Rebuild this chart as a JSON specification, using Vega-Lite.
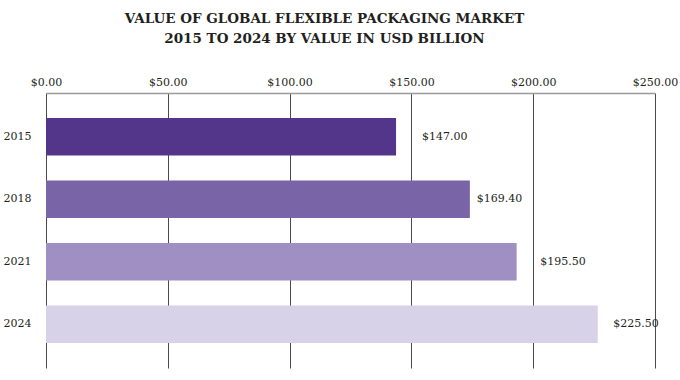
{
  "$schema": "https://vega.github.io/schema/vega-lite/v6.json",
  "autosize": {"type": "none"},
  "width": 609,
  "height": 275,
  "padding": {"left": 46, "top": 93, "right": 25, "bottom": 12},
  "background": "white",
  "title": {
    "text": ["VALUE OF GLOBAL FLEXIBLE PACKAGING MARKET", "2015 TO 2024 BY VALUE IN USD BILLION"],
    "anchor": "middle",
    "frame": "group",
    "dx": -26,
    "offset": 31,
    "font": "DejaVu Serif",
    "fontSize": 13.5,
    "fontWeight": "bold",
    "color": "#231f20",
    "lineHeight": 20
  },
  "config": {
    "view": {"stroke": null},
    "axis": {"labelFont": "DejaVu Serif", "labelFontSize": 11, "labelColor": "#231f20"}
  },
  "data": {
    "values": [
      {"year": "2015", "bar": 143.7, "value": 147.0, "label": "$147.00"},
      {"year": "2018", "bar": 174.0, "value": 169.4, "label": "$169.40"},
      {"year": "2021", "bar": 193.2, "value": 195.5, "label": "$195.50"},
      {"year": "2024", "bar": 226.5, "value": 225.5, "label": "$225.50"}
    ]
  },
  "encoding": {
    "y": {
      "field": "year", "type": "nominal", "sort": null,
      "scale": {"paddingInner": 0.4, "paddingOuter": 0.4},
      "axis": {"title": null, "domain": false, "ticks": false, "labelPadding": 15}
    }
  },
  "layer": [
    {
      "mark": {"type": "bar"},
      "encoding": {
        "x": {
          "field": "bar", "type": "quantitative",
          "scale": {"domain": [0, 250], "nice": false},
          "axis": {
            "orient": "top", "title": null, "values": [0, 50, 100, 150, 200, 250],
            "format": "$.2f", "ticks": false, "labelPadding": 6,
            "domainColor": "#9a9a9a", "domainWidth": 1.5,
            "grid": true, "gridColor": "#4a4a4a", "gridWidth": 1, "gridOpacity": 1,
            "labelFlush": false
          }
        },
        "color": {
          "field": "year", "type": "nominal", "legend": null,
          "scale": {"domain": ["2015", "2018", "2021", "2024"], "range": ["#53368a", "#7a64a8", "#a08fc3", "#d7d2e8"]}
        }
      }
    },
    {
      "mark": {"type": "text", "align": "left", "baseline": "middle", "dx": 18, "font": "DejaVu Serif", "fontSize": 11, "color": "#231f20"},
      "encoding": {
        "x": {"field": "value", "type": "quantitative"},
        "text": {"field": "label"}
      }
    }
  ]
}
